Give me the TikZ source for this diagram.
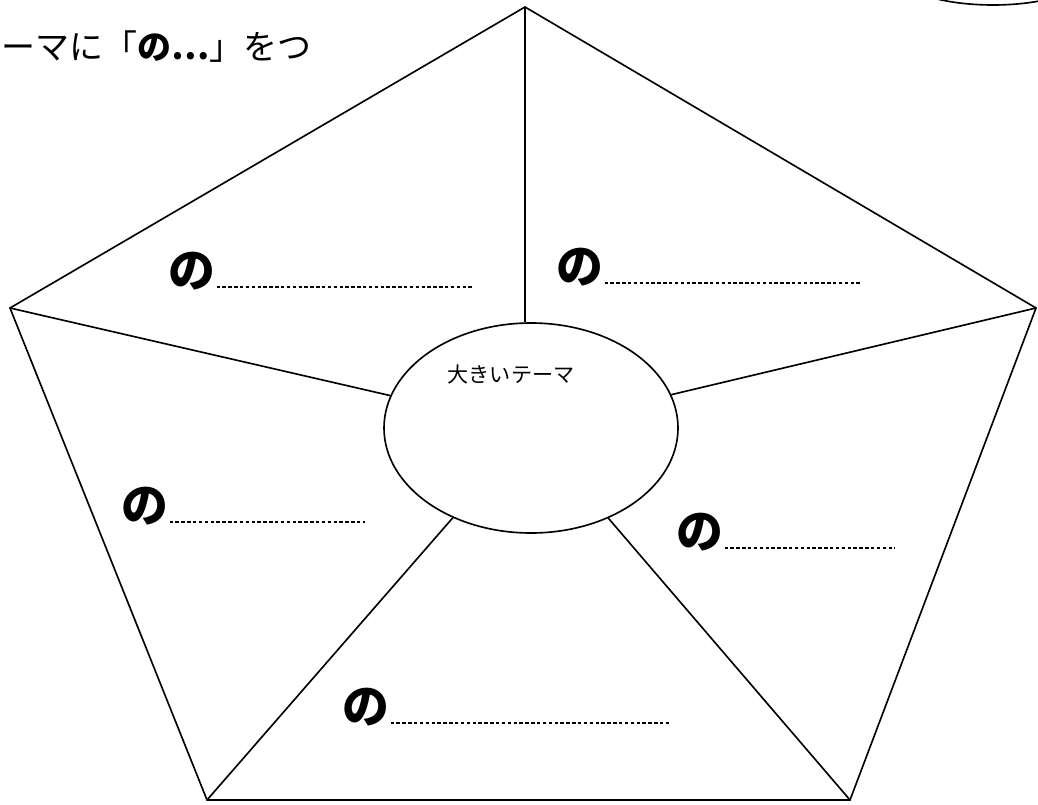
\documentclass[tikz,border=0pt]{standalone}
\usepackage{fontspec}
\setmainfont{Noto Sans CJK JP}
\newfontfamily\cjk{Noto Sans CJK JP}
\usepackage{tikz}
\usetikzlibrary{shapes.geometric}
\newcommand{\nomark}{{\fontsize{40}{40}\selectfont\bfseries の}}

\begin{document}
\begin{tikzpicture}[x=0.3mm,y=-0.3mm,line width=1.4pt]
\tikzstyle{every node}=[inner sep=0pt,font=\cjk]
\tikzstyle{leader}=[line width=1pt,dash pattern=on 3pt off 2pt]
\useasboundingbox (0,0) rectangle (1038,804);
\clip (0,0) rectangle (1038,804);
\coordinate (p1) at (525,7);
\coordinate (p2) at (1036,308);
\coordinate (p3) at (850,800);
\coordinate (p4) at (207,800);
\coordinate (p5) at (10,308);
\draw (p1) -- (p2) -- (p3) -- (p4) -- (p5) -- cycle;
\node[ellipse,draw,minimum width=88.2mm,minimum height=63mm] (theme) at (531,428) {};
\node (title) at (511,374) {\fontsize{18}{18}\selectfont 大きいテーマ};
\draw (p1) -- (p1 |- theme.north);
\foreach \p in {p2,p3,p4,p5}
  \draw (\p) -- (theme);
\draw (993,-30) ellipse [x radius=100,y radius=35];
\node[anchor=west] (hint) at (1,47) {\fontsize{29}{29}\selectfont ーマに「{\bfseries の⋯}」をつ};
\node[anchor=base west] (no1) at (168,287) {\nomark};
\node[anchor=base west] (no2) at (556,283) {\nomark};
\node[anchor=base west] (no3) at (121,522) {\nomark};
\node[anchor=base west] (no4) at (676,548) {\nomark};
\node[anchor=base west] (no5) at (342,723) {\nomark};
\draw[leader] (no1.base east) -- +(255,0);
\draw[leader] (no2.base east) -- +(255,0);
\draw[leader] (no3.base east) -- +(195,0);
\draw[leader] (no4.base east) -- +(170,0);
\draw[leader] (no5.base east) -- +(278,0);
\end{tikzpicture}
\end{document}
